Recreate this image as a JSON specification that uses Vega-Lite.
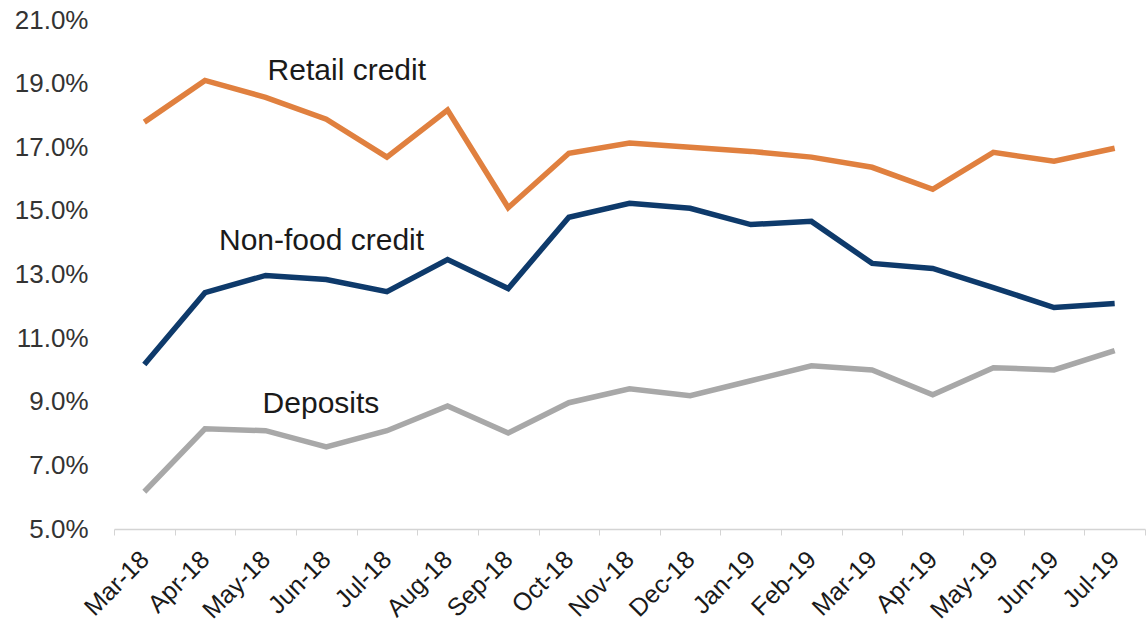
{
  "$schema": "https://vega.github.io/schema/vega-lite/v6.json",
  "width": 1031,
  "height": 509,
  "autosize": "none",
  "padding": {"left": 114, "top": 20, "right": 2, "bottom": 105},
  "background": "white",
  "config": {"view": {"stroke": null}, "font": "Liberation Sans"},
  "datasets": {
    "series": [
      {"month": "Mar-18", "series": "Retail credit", "value": 17.79},
      {"month": "Apr-18", "series": "Retail credit", "value": 19.1},
      {"month": "May-18", "series": "Retail credit", "value": 18.57},
      {"month": "Jun-18", "series": "Retail credit", "value": 17.88},
      {"month": "Jul-18", "series": "Retail credit", "value": 16.69},
      {"month": "Aug-18", "series": "Retail credit", "value": 18.17},
      {"month": "Sep-18", "series": "Retail credit", "value": 15.1},
      {"month": "Oct-18", "series": "Retail credit", "value": 16.81},
      {"month": "Nov-18", "series": "Retail credit", "value": 17.13},
      {"month": "Dec-18", "series": "Retail credit", "value": 17.0},
      {"month": "Jan-19", "series": "Retail credit", "value": 16.87},
      {"month": "Feb-19", "series": "Retail credit", "value": 16.69},
      {"month": "Mar-19", "series": "Retail credit", "value": 16.37},
      {"month": "Apr-19", "series": "Retail credit", "value": 15.68},
      {"month": "May-19", "series": "Retail credit", "value": 16.84},
      {"month": "Jun-19", "series": "Retail credit", "value": 16.56},
      {"month": "Jul-19", "series": "Retail credit", "value": 16.97},
      {"month": "Mar-18", "series": "Non-food credit", "value": 10.17},
      {"month": "Apr-18", "series": "Non-food credit", "value": 12.43},
      {"month": "May-18", "series": "Non-food credit", "value": 12.97},
      {"month": "Jun-18", "series": "Non-food credit", "value": 12.84},
      {"month": "Jul-18", "series": "Non-food credit", "value": 12.46},
      {"month": "Aug-18", "series": "Non-food credit", "value": 13.47},
      {"month": "Sep-18", "series": "Non-food credit", "value": 12.56},
      {"month": "Oct-18", "series": "Non-food credit", "value": 14.8},
      {"month": "Nov-18", "series": "Non-food credit", "value": 15.24},
      {"month": "Dec-18", "series": "Non-food credit", "value": 15.08},
      {"month": "Jan-19", "series": "Non-food credit", "value": 14.57},
      {"month": "Feb-19", "series": "Non-food credit", "value": 14.67},
      {"month": "Mar-19", "series": "Non-food credit", "value": 13.35},
      {"month": "Apr-19", "series": "Non-food credit", "value": 13.19},
      {"month": "May-19", "series": "Non-food credit", "value": 12.59},
      {"month": "Jun-19", "series": "Non-food credit", "value": 11.96},
      {"month": "Jul-19", "series": "Non-food credit", "value": 12.09},
      {"month": "Mar-18", "series": "Deposits", "value": 6.17},
      {"month": "Apr-18", "series": "Deposits", "value": 8.15},
      {"month": "May-18", "series": "Deposits", "value": 8.09},
      {"month": "Jun-18", "series": "Deposits", "value": 7.58},
      {"month": "Jul-18", "series": "Deposits", "value": 8.09},
      {"month": "Aug-18", "series": "Deposits", "value": 8.87},
      {"month": "Sep-18", "series": "Deposits", "value": 8.02},
      {"month": "Oct-18", "series": "Deposits", "value": 8.97},
      {"month": "Nov-18", "series": "Deposits", "value": 9.41},
      {"month": "Dec-18", "series": "Deposits", "value": 9.19},
      {"month": "Jan-19", "series": "Deposits", "value": 9.66},
      {"month": "Feb-19", "series": "Deposits", "value": 10.13},
      {"month": "Mar-19", "series": "Deposits", "value": 10.0},
      {"month": "Apr-19", "series": "Deposits", "value": 9.22},
      {"month": "May-19", "series": "Deposits", "value": 10.07},
      {"month": "Jun-19", "series": "Deposits", "value": 10.0},
      {"month": "Jul-19", "series": "Deposits", "value": 10.61}
    ],
    "labels": [
      {"month": "May-18", "series": "Retail credit", "value": 19.11},
      {"month": "Apr-18", "series": "Non-food credit", "value": 13.77},
      {"month": "May-18", "series": "Deposits", "value": 8.65}
    ]
  },
  "layer": [
    {
      "data": {"name": "series"},
      "mark": {"type": "line", "strokeWidth": 5.5, "strokeJoin": "miter", "strokeCap": "butt"},
      "encoding": {
        "x": {
          "field": "month", "type": "ordinal", "bandPosition": 0.5,
          "sort": ["Mar-18","Apr-18","May-18","Jun-18","Jul-18","Aug-18","Sep-18","Oct-18","Nov-18","Dec-18","Jan-19","Feb-19","Mar-19","Apr-19","May-19","Jun-19","Jul-19"],
          "scale": {"type": "band", "paddingInner": 0, "paddingOuter": 0},
          "axis": {
            "title": null, "labelAngle": -45, "labelFontSize": 25, "labelColor": "#1a1a1a",
            "labelAlign": "right", "labelBaseline": "middle", "labelPadding": 20,
            "tickBand": "extent", "tickSize": 6, "tickColor": "#d4d4d4",
            "domainColor": "#d4d4d4", "domainWidth": 1.5, "grid": false
          }
        },
        "y": {
          "field": "value", "type": "quantitative",
          "scale": {"domain": [5, 21], "nice": false, "zero": false},
          "axis": {
            "title": null, "values": [5,7,9,11,13,15,17,19,21],
            "labelExpr": "format(datum.value, '.1f') + '%'",
            "labelFontSize": 26, "labelColor": "#333333", "labelPadding": 26,
            "domain": false, "ticks": false, "grid": false
          }
        },
        "color": {
          "field": "series", "type": "nominal", "legend": null,
          "scale": {"domain": ["Retail credit", "Non-food credit", "Deposits"], "range": ["#E0803F", "#0E3A6B", "#A8A8A8"]}
        },
        "detail": {"field": "series"}
      }
    },
    {
      "data": {"name": "labels"},
      "transform": [{"filter": "datum.series === 'Retail credit'"}],
      "mark": {"type": "text", "align": "left", "baseline": "alphabetic", "fontSize": 30, "color": "#1a1a1a", "dx": 2},
      "encoding": {
        "x": {"field": "month", "type": "ordinal", "bandPosition": 0.5,
          "sort": ["Mar-18","Apr-18","May-18","Jun-18","Jul-18","Aug-18","Sep-18","Oct-18","Nov-18","Dec-18","Jan-19","Feb-19","Mar-19","Apr-19","May-19","Jun-19","Jul-19"]},
        "y": {"field": "value", "type": "quantitative"},
        "text": {"field": "series"}
      }
    },
    {
      "data": {"name": "labels"},
      "transform": [{"filter": "datum.series === 'Non-food credit'"}],
      "mark": {"type": "text", "align": "left", "baseline": "alphabetic", "fontSize": 30, "color": "#1a1a1a", "dx": 14},
      "encoding": {
        "x": {"field": "month", "type": "ordinal", "bandPosition": 0.5,
          "sort": ["Mar-18","Apr-18","May-18","Jun-18","Jul-18","Aug-18","Sep-18","Oct-18","Nov-18","Dec-18","Jan-19","Feb-19","Mar-19","Apr-19","May-19","Jun-19","Jul-19"]},
        "y": {"field": "value", "type": "quantitative"},
        "text": {"field": "series"}
      }
    },
    {
      "data": {"name": "labels"},
      "transform": [{"filter": "datum.series === 'Deposits'"}],
      "mark": {"type": "text", "align": "left", "baseline": "alphabetic", "fontSize": 30, "color": "#1a1a1a", "dx": -3},
      "encoding": {
        "x": {"field": "month", "type": "ordinal", "bandPosition": 0.5,
          "sort": ["Mar-18","Apr-18","May-18","Jun-18","Jul-18","Aug-18","Sep-18","Oct-18","Nov-18","Dec-18","Jan-19","Feb-19","Mar-19","Apr-19","May-19","Jun-19","Jul-19"]},
        "y": {"field": "value", "type": "quantitative"},
        "text": {"field": "series"}
      }
    }
  ]
}
